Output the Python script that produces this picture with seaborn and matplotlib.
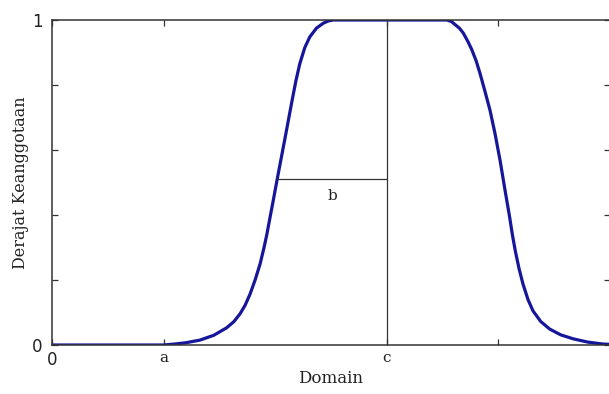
import matplotlib
matplotlib.use("Agg")
import matplotlib.pyplot as plt
import seaborn as sns
import pandas as pd

# Membership curve (pi-shaped): domain positions and membership degrees
domain_x = [0, 10, 20, 22, 24, 26.5, 29, 31.3, 32.6, 33.7, 34.6, 35.5, 36.4,
            37.3, 38.0, 38.5, 39.1, 39.6, 40.3, 41.0, 41.8, 42.4, 43.0, 43.7,
            44.4, 45.3, 46.2, 47.4, 48.6, 49.5, 50.4, 60,
            70.8, 71.6, 72.3, 73.0, 73.7, 74.5, 75.2, 76.0, 76.7, 77.6, 78.5,
            79.4, 80.3, 81.2, 82.0, 82.5, 83.0, 83.7, 84.4, 85.3, 86.2, 87.6,
            89.2, 91.2, 93.4, 96.0, 98.7, 100]
membership = [0, 0, 0, 0.003, 0.007, 0.015, 0.03, 0.053, 0.072, 0.096, 0.122,
              0.157, 0.2, 0.25, 0.30, 0.34, 0.395, 0.44, 0.505, 0.568, 0.64,
              0.695, 0.75, 0.812, 0.865, 0.915, 0.948, 0.975, 0.99, 0.997, 1.0,
              1.0,
              1.0, 0.995, 0.985, 0.975, 0.96, 0.935, 0.91, 0.875, 0.836, 0.78,
              0.722, 0.65, 0.568, 0.475, 0.395, 0.34, 0.292, 0.235, 0.188,
              0.14, 0.105, 0.072, 0.049, 0.031, 0.019, 0.009, 0.003, 0.002]

# Axis ticks and labels
x_ticks = [0, 20, 60, 80]
x_tick_labels = ["0", "a", "c", ""]
y_ticks = [0, 0.2, 0.4, 0.6, 0.8, 1.0]
y_tick_labels = ["0", "", "", "", "", "1"]

# Marker lines for the parameters
c_pos = 60
b_start = 40.3
b_level = 0.51
b_label_pos = (50.3, 0.46)

sns.set_style("ticks")
plt.rcParams["font.family"] = ["DejaVu Serif"]

fig = plt.figure(figsize=(6.09, 3.94), dpi=100)
ax = fig.add_axes([52 / 609, 49 / 394, 558 / 609, 325 / 394])

df = pd.DataFrame({"Domain": domain_x, "Derajat": membership})
sns.lineplot(data=df, x="Domain", y="Derajat", ax=ax, color="#16169a",
             linewidth=2.3, sort=False, estimator=None)

line_col = "#333333"
ax.plot([c_pos, c_pos], [0, 1], color=line_col, lw=0.9)
ax.plot([b_start, c_pos], [b_level, b_level], color=line_col, lw=0.9)
ax.text(b_label_pos[0], b_label_pos[1], "b", ha="center", va="center",
        fontsize=11, color="#222222")

ax.set_xlim(0, 100)
ax.set_ylim(0, 1)

ax.set_xticks(x_ticks)
ax.set_xticklabels(x_tick_labels)
ax.set_yticks(y_ticks)
ax.set_yticklabels(y_tick_labels)

ax.tick_params(axis="both", direction="in", length=4, width=0.9,
               color=line_col, top=True, right=True)
ax.tick_params(axis="y", pad=7)
ax.tick_params(axis="x", pad=4)

for lab in ax.get_yticklabels():
    lab.set_family(["DejaVu Sans"])
    lab.set_fontsize(12)
    lab.set_color("#222222")
for i, lab in enumerate(ax.get_xticklabels()):
    if i == 0:
        lab.set_family(["DejaVu Sans"])
        lab.set_fontsize(12)
    else:
        lab.set_fontsize(11)
    lab.set_color("#222222")

ax.set_xlabel("Domain", fontsize=12, color="#222222", labelpad=1)
ax.set_ylabel("Derajat Keanggotaan", fontsize=11.5, color="#222222", labelpad=2)

for side in ["left", "right", "top", "bottom"]:
    ax.spines[side].set_color(line_col)
    ax.spines[side].set_linewidth(1.1)

fig.savefig("out.png", dpi=100)
